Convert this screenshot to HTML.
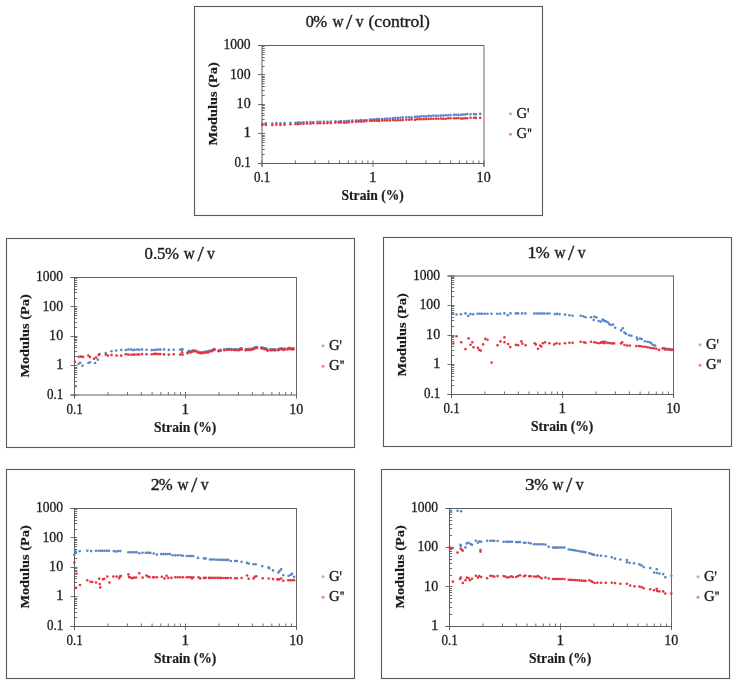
<!DOCTYPE html>
<html><head><meta charset="utf-8"><style>
html,body{margin:0;padding:0;background:#fff;}
svg{display:block;will-change:transform;}
.t{font-family:"Liberation Serif",serif;font-size:15px;fill:#1c1c1c;stroke:#1c1c1c;stroke-width:.35px;}
.n{font-family:"Liberation Serif",serif;font-size:14px;fill:#1c1c1c;stroke:#1c1c1c;stroke-width:.3px;}
.b{font-family:"Liberation Serif",serif;font-size:13px;font-weight:bold;fill:#1c1c1c;stroke:#1c1c1c;stroke-width:.2px;}
</style></head><body>
<svg width="739" height="684" viewBox="0 0 739 684">
<rect width="739" height="684" fill="#fff"/>
<g transform="translate(194,6)"><rect x="0.5" y="0.5" width="348" height="209" fill="#fff" stroke="#5a5a5a" stroke-width="1.1"/><text x="111.65" y="21.20" textLength="8.10" lengthAdjust="spacingAndGlyphs" class="t" style="font-size:16px">0</text><text x="119.31" y="21.20" textLength="13.94" lengthAdjust="spacingAndGlyphs" class="t" style="font-size:16px">%</text><text x="138.50" y="21.20" textLength="11.03" lengthAdjust="spacingAndGlyphs" class="t" style="font-size:16px">w</text><text x="152.10" y="23.20" textLength="6.26" lengthAdjust="spacingAndGlyphs" class="t" style="font-size:21.6px">/</text><text x="161.80" y="21.20" textLength="7.90" lengthAdjust="spacingAndGlyphs" class="t" style="font-size:16px">v</text><text x="174.51" y="21.20" textLength="61.46" lengthAdjust="spacingAndGlyphs" class="t" style="font-size:16px">(control)</text><path d="M64.0,39.5H290.0M64.0,157.5H290.0M68.0,39.5V160.8" fill="none" stroke="#5f5f5f" stroke-width="1"/><path d="M290.0,39.0V160.8" fill="none" stroke="#6a6a6a" stroke-width="1"/><path d="M64.0,157.50H71.0M68.0,148.50H70.7M68.0,143.50H70.7M68.0,139.50H70.7M68.0,136.50H70.7M68.0,134.50H70.7M68.0,132.50H70.7M68.0,130.50H70.7M68.0,129.50H70.7M64.0,127.50H71.0M68.0,118.50H70.7M68.0,113.50H70.7M68.0,109.50H70.7M68.0,107.50H70.7M68.0,104.50H70.7M68.0,102.50H70.7M68.0,101.50H70.7M68.0,99.50H70.7M64.0,98.50H71.0M68.0,89.50H70.7M68.0,84.50H70.7M68.0,80.50H70.7M68.0,77.50H70.7M68.0,75.50H70.7M68.0,73.50H70.7M68.0,71.50H70.7M68.0,70.50H70.7M64.0,68.50H71.0M68.0,60.50H70.7M68.0,54.50H70.7M68.0,51.50H70.7M68.0,48.50H70.7M68.0,46.50H70.7M68.0,44.50H70.7M68.0,42.50H70.7M68.0,40.50H70.7M64.0,39.50H71.0M68.00,154.5V160.8M101.41,154.5V157.5M120.96,154.5V157.5M134.83,154.5V157.5M145.59,154.5V157.5M154.37,154.5V157.5M161.81,154.5V157.5M168.24,154.5V157.5M173.92,154.5V157.5M179.00,154.5V160.8M212.41,154.5V157.5M231.96,154.5V157.5M245.83,154.5V157.5M256.59,154.5V157.5M265.37,154.5V157.5M272.81,154.5V157.5M279.24,154.5V157.5M284.92,154.5V157.5M290.00,154.5V160.8" fill="none" stroke="#5f5f5f" stroke-width="0.9"/><text x="40.58" y="160.70" textLength="16.30" lengthAdjust="spacingAndGlyphs" class="n" style="font-size:14px">0.1</text><text x="49.44" y="131.30" textLength="7.57" lengthAdjust="spacingAndGlyphs" class="n" style="font-size:14px">1</text><text x="42.64" y="101.90" textLength="14.02" lengthAdjust="spacingAndGlyphs" class="n" style="font-size:14px">10</text><text x="35.96" y="72.50" textLength="20.69" lengthAdjust="spacingAndGlyphs" class="n" style="font-size:14px">100</text><text x="29.48" y="43.10" textLength="27.17" lengthAdjust="spacingAndGlyphs" class="n" style="font-size:14px">1000</text><text x="59.98" y="175.80" textLength="16.30" lengthAdjust="spacingAndGlyphs" class="n" style="font-size:14px">0.1</text><text x="174.99" y="175.80" textLength="7.57" lengthAdjust="spacingAndGlyphs" class="n" style="font-size:14px">1</text><text x="282.64" y="175.80" textLength="14.02" lengthAdjust="spacingAndGlyphs" class="n" style="font-size:14px">10</text><text x="147.55" y="194.10" textLength="62.23" lengthAdjust="spacingAndGlyphs" class="b" style="font-size:14px">Strain (%)</text><g transform="translate(22.6,139.4) rotate(-90)"><text x="-0.22" y="0.00" textLength="83.31" lengthAdjust="spacingAndGlyphs" class="b" style="font-size:13.5px">Modulus (Pa)</text></g><g transform="translate(0.0,0)"><circle cx="316.5" cy="107.7" r="1.5" fill="#5a86c2" opacity=".6"/><circle cx="316.5" cy="128.3" r="1.5" fill="#e3343f" opacity=".6"/><text x="322.41" y="111.50" textLength="10.67" lengthAdjust="spacingAndGlyphs" class="n" style="font-size:13.9px">G</text><text x="322.41" y="131.70" textLength="10.67" lengthAdjust="spacingAndGlyphs" class="n" style="font-size:13.9px">G</text><path d="M333.35,102.3L335.05,102.3L334.60,106.4L333.80,106.4ZM333.65,122.6L335.35,122.6L334.90,126.3L334.10,126.3ZM335.75,122.6L337.45,122.6L337.00,126.3L336.20,126.3Z" fill="#1c1c1c"/></g><g fill="#5a86c2"><circle cx="68.3" cy="117.5" r="1.3"/><circle cx="71.8" cy="117.3" r="1.3"/><circle cx="78.3" cy="117.5" r="1.3"/><circle cx="82.4" cy="117.1" r="1.3"/><circle cx="86.4" cy="117.3" r="1.3"/><circle cx="90.5" cy="117.1" r="1.3"/><circle cx="96.4" cy="116.7" r="1.3"/><circle cx="101.5" cy="116.8" r="1.3"/><circle cx="104.0" cy="116.4" r="1.3"/><circle cx="106.5" cy="116.5" r="1.3"/><circle cx="109.5" cy="116.2" r="1.3"/><circle cx="113.0" cy="116.1" r="1.3"/><circle cx="116.5" cy="116.1" r="1.3"/><circle cx="119.3" cy="116.3" r="1.3"/><circle cx="123.5" cy="115.7" r="1.3"/><circle cx="126.2" cy="115.7" r="1.3"/><circle cx="129.9" cy="115.8" r="1.3"/><circle cx="133.5" cy="115.9" r="1.3"/><circle cx="136.8" cy="115.6" r="1.3"/><circle cx="141.4" cy="115.4" r="1.3"/><circle cx="144.8" cy="115.6" r="1.3"/><circle cx="147.0" cy="115.0" r="1.3"/><circle cx="150.2" cy="115.4" r="1.3"/><circle cx="152.6" cy="115.0" r="1.3"/><circle cx="155.0" cy="114.8" r="1.3"/><circle cx="158.3" cy="114.6" r="1.3"/><circle cx="162.0" cy="114.5" r="1.3"/><circle cx="164.6" cy="114.6" r="1.3"/><circle cx="167.2" cy="114.1" r="1.3"/><circle cx="169.8" cy="114.2" r="1.3"/><circle cx="172.4" cy="114.0" r="1.3"/><circle cx="176.0" cy="113.6" r="1.3"/><circle cx="178.2" cy="113.6" r="1.3"/><circle cx="180.5" cy="113.2" r="1.3"/><circle cx="182.8" cy="113.0" r="1.3"/><circle cx="185.0" cy="113.0" r="1.3"/><circle cx="188.0" cy="113.0" r="1.3"/><circle cx="190.7" cy="112.7" r="1.3"/><circle cx="193.3" cy="112.5" r="1.3"/><circle cx="196.0" cy="112.5" r="1.3"/><circle cx="199.0" cy="112.2" r="1.3"/><circle cx="201.4" cy="111.9" r="1.3"/><circle cx="203.9" cy="112.0" r="1.3"/><circle cx="206.4" cy="111.8" r="1.3"/><circle cx="208.8" cy="111.4" r="1.3"/><circle cx="212.3" cy="111.4" r="1.3"/><circle cx="215.0" cy="111.2" r="1.3"/><circle cx="217.6" cy="111.2" r="1.3"/><circle cx="221.0" cy="110.9" r="1.3"/><circle cx="223.1" cy="110.6" r="1.3"/><circle cx="225.3" cy="110.9" r="1.3"/><circle cx="227.4" cy="110.3" r="1.3"/><circle cx="229.8" cy="110.3" r="1.3"/><circle cx="232.2" cy="110.4" r="1.3"/><circle cx="234.6" cy="109.9" r="1.3"/><circle cx="236.9" cy="110.0" r="1.3"/><circle cx="239.3" cy="109.6" r="1.3"/><circle cx="242.0" cy="109.9" r="1.3"/><circle cx="244.4" cy="109.8" r="1.3"/><circle cx="246.9" cy="109.6" r="1.3"/><circle cx="249.3" cy="109.6" r="1.3"/><circle cx="251.7" cy="109.2" r="1.3"/><circle cx="254.2" cy="109.3" r="1.3"/><circle cx="256.6" cy="109.1" r="1.3"/><circle cx="260.0" cy="108.9" r="1.3"/><circle cx="262.2" cy="108.8" r="1.3"/><circle cx="264.5" cy="108.9" r="1.3"/><circle cx="267.0" cy="108.8" r="1.3"/><circle cx="269.0" cy="108.5" r="1.3"/><circle cx="271.1" cy="108.5" r="1.3"/><circle cx="273.1" cy="108.0" r="1.3"/><circle cx="276.5" cy="108.3" r="1.3"/><circle cx="280.0" cy="108.1" r="1.3"/><circle cx="281.9" cy="108.2" r="1.3"/><circle cx="286.2" cy="107.9" r="1.3"/></g><g fill="#e3343f"><circle cx="68.3" cy="118.9" r="1.3"/><circle cx="71.8" cy="118.9" r="1.3"/><circle cx="78.3" cy="119.1" r="1.3"/><circle cx="82.4" cy="118.7" r="1.3"/><circle cx="86.4" cy="118.9" r="1.3"/><circle cx="90.5" cy="118.7" r="1.3"/><circle cx="96.4" cy="118.3" r="1.3"/><circle cx="101.5" cy="118.0" r="1.3"/><circle cx="104.0" cy="118.3" r="1.3"/><circle cx="106.5" cy="117.8" r="1.3"/><circle cx="109.5" cy="117.7" r="1.3"/><circle cx="113.0" cy="117.6" r="1.3"/><circle cx="116.5" cy="117.7" r="1.3"/><circle cx="119.3" cy="117.1" r="1.3"/><circle cx="123.5" cy="117.2" r="1.3"/><circle cx="126.2" cy="117.2" r="1.3"/><circle cx="129.9" cy="117.3" r="1.3"/><circle cx="133.5" cy="117.1" r="1.3"/><circle cx="136.8" cy="117.1" r="1.3"/><circle cx="141.4" cy="116.6" r="1.3"/><circle cx="144.8" cy="116.6" r="1.3"/><circle cx="147.0" cy="116.5" r="1.3"/><circle cx="150.2" cy="116.7" r="1.3"/><circle cx="152.6" cy="116.7" r="1.3"/><circle cx="155.0" cy="116.1" r="1.3"/><circle cx="158.3" cy="116.0" r="1.3"/><circle cx="162.0" cy="115.8" r="1.3"/><circle cx="164.6" cy="115.6" r="1.3"/><circle cx="167.2" cy="115.6" r="1.3"/><circle cx="169.8" cy="115.5" r="1.3"/><circle cx="172.4" cy="115.1" r="1.3"/><circle cx="176.0" cy="114.7" r="1.3"/><circle cx="178.2" cy="114.8" r="1.3"/><circle cx="180.5" cy="114.7" r="1.3"/><circle cx="182.8" cy="114.7" r="1.3"/><circle cx="185.0" cy="114.9" r="1.3"/><circle cx="188.0" cy="114.6" r="1.3"/><circle cx="190.7" cy="114.4" r="1.3"/><circle cx="193.3" cy="114.4" r="1.3"/><circle cx="196.0" cy="114.4" r="1.3"/><circle cx="199.0" cy="113.9" r="1.3"/><circle cx="201.4" cy="114.4" r="1.3"/><circle cx="203.9" cy="114.2" r="1.3"/><circle cx="206.4" cy="114.2" r="1.3"/><circle cx="208.8" cy="114.1" r="1.3"/><circle cx="212.3" cy="113.8" r="1.3"/><circle cx="215.0" cy="113.7" r="1.3"/><circle cx="217.6" cy="113.4" r="1.3"/><circle cx="221.0" cy="113.7" r="1.3"/><circle cx="223.1" cy="113.2" r="1.3"/><circle cx="225.3" cy="113.2" r="1.3"/><circle cx="227.4" cy="113.2" r="1.3"/><circle cx="229.8" cy="113.1" r="1.3"/><circle cx="232.2" cy="113.1" r="1.3"/><circle cx="234.6" cy="112.9" r="1.3"/><circle cx="236.9" cy="112.8" r="1.3"/><circle cx="239.3" cy="112.8" r="1.3"/><circle cx="242.0" cy="112.7" r="1.3"/><circle cx="244.4" cy="112.8" r="1.3"/><circle cx="246.9" cy="112.5" r="1.3"/><circle cx="249.3" cy="112.9" r="1.3"/><circle cx="251.7" cy="112.7" r="1.3"/><circle cx="254.2" cy="112.3" r="1.3"/><circle cx="256.6" cy="112.3" r="1.3"/><circle cx="260.0" cy="112.3" r="1.3"/><circle cx="262.2" cy="112.3" r="1.3"/><circle cx="264.5" cy="112.1" r="1.3"/><circle cx="267.0" cy="112.5" r="1.3"/><circle cx="269.0" cy="112.5" r="1.3"/><circle cx="271.1" cy="112.2" r="1.3"/><circle cx="273.1" cy="112.2" r="1.3"/><circle cx="276.5" cy="111.8" r="1.3"/><circle cx="280.0" cy="111.8" r="1.3"/><circle cx="281.9" cy="111.9" r="1.3"/><circle cx="286.2" cy="111.8" r="1.3"/></g></g><g transform="translate(6,238)"><rect x="0.5" y="0.5" width="348" height="209" fill="#fff" stroke="#5a5a5a" stroke-width="1.1"/><text x="138.53" y="20.50" textLength="20.94" lengthAdjust="spacingAndGlyphs" class="t" style="font-size:16px">0.5</text><text x="159.01" y="20.50" textLength="13.94" lengthAdjust="spacingAndGlyphs" class="t" style="font-size:16px">%</text><text x="177.80" y="20.50" textLength="11.03" lengthAdjust="spacingAndGlyphs" class="t" style="font-size:16px">w</text><text x="191.40" y="22.50" textLength="6.26" lengthAdjust="spacingAndGlyphs" class="t" style="font-size:21.6px">/</text><text x="201.10" y="20.50" textLength="7.90" lengthAdjust="spacingAndGlyphs" class="t" style="font-size:16px">v</text><path d="M64.5,39.5H290.5M64.5,157.0H290.5M68.5,39.5V160.3" fill="none" stroke="#5f5f5f" stroke-width="1"/><path d="M290.5,39.0V160.3" fill="none" stroke="#6a6a6a" stroke-width="1"/><path d="M64.5,157.00H71.5M68.5,148.50H71.2M68.5,143.50H71.2M68.5,139.50H71.2M68.5,136.50H71.2M68.5,134.50H71.2M68.5,132.50H71.2M68.5,130.50H71.2M68.5,129.50H71.2M64.5,127.50H71.5M68.5,118.50H71.2M68.5,113.50H71.2M68.5,109.50H71.2M68.5,107.50H71.2M68.5,104.50H71.2M68.5,102.50H71.2M68.5,101.50H71.2M68.5,99.50H71.2M64.5,98.50H71.5M68.5,89.50H71.2M68.5,84.50H71.2M68.5,80.50H71.2M68.5,77.50H71.2M68.5,75.50H71.2M68.5,73.50H71.2M68.5,71.50H71.2M68.5,70.50H71.2M64.5,68.50H71.5M68.5,60.50H71.2M68.5,54.50H71.2M68.5,51.50H71.2M68.5,48.50H71.2M68.5,46.50H71.2M68.5,44.50H71.2M68.5,42.50H71.2M68.5,40.50H71.2M64.5,39.50H71.5M68.50,154.0V160.3M101.91,154.0V157.0M121.46,154.0V157.0M135.33,154.0V157.0M146.09,154.0V157.0M154.87,154.0V157.0M162.31,154.0V157.0M168.74,154.0V157.0M174.42,154.0V157.0M179.50,154.0V160.3M212.91,154.0V157.0M232.46,154.0V157.0M246.33,154.0V157.0M257.09,154.0V157.0M265.87,154.0V157.0M273.31,154.0V157.0M279.74,154.0V157.0M285.42,154.0V157.0M290.50,154.0V160.3" fill="none" stroke="#5f5f5f" stroke-width="0.9"/><text x="41.08" y="160.70" textLength="16.30" lengthAdjust="spacingAndGlyphs" class="n" style="font-size:14px">0.1</text><text x="49.94" y="131.30" textLength="7.57" lengthAdjust="spacingAndGlyphs" class="n" style="font-size:14px">1</text><text x="43.14" y="101.90" textLength="14.02" lengthAdjust="spacingAndGlyphs" class="n" style="font-size:14px">10</text><text x="36.46" y="72.50" textLength="20.69" lengthAdjust="spacingAndGlyphs" class="n" style="font-size:14px">100</text><text x="29.98" y="43.10" textLength="27.17" lengthAdjust="spacingAndGlyphs" class="n" style="font-size:14px">1000</text><text x="60.48" y="175.80" textLength="16.30" lengthAdjust="spacingAndGlyphs" class="n" style="font-size:14px">0.1</text><text x="175.49" y="175.80" textLength="7.57" lengthAdjust="spacingAndGlyphs" class="n" style="font-size:14px">1</text><text x="283.14" y="175.80" textLength="14.02" lengthAdjust="spacingAndGlyphs" class="n" style="font-size:14px">10</text><text x="148.05" y="194.10" textLength="62.23" lengthAdjust="spacingAndGlyphs" class="b" style="font-size:14px">Strain (%)</text><g transform="translate(23.1,139.4) rotate(-90)"><text x="-0.22" y="0.00" textLength="83.31" lengthAdjust="spacingAndGlyphs" class="b" style="font-size:13.5px">Modulus (Pa)</text></g><g transform="translate(0.5,0)"><circle cx="316.5" cy="107.7" r="1.5" fill="#5a86c2" opacity=".6"/><circle cx="316.5" cy="128.3" r="1.5" fill="#e3343f" opacity=".6"/><text x="322.41" y="111.50" textLength="10.67" lengthAdjust="spacingAndGlyphs" class="n" style="font-size:13.9px">G</text><text x="322.41" y="131.70" textLength="10.67" lengthAdjust="spacingAndGlyphs" class="n" style="font-size:13.9px">G</text><path d="M333.35,102.3L335.05,102.3L334.60,106.4L333.80,106.4ZM333.65,122.6L335.35,122.6L334.90,126.3L334.10,126.3ZM335.75,122.6L337.45,122.6L337.00,126.3L336.20,126.3Z" fill="#1c1c1c"/></g><g fill="#5a86c2"><circle cx="69.6" cy="148.1" r="1.3"/><circle cx="72.7" cy="125.8" r="1.3"/><circle cx="74.2" cy="124.8" r="1.3"/><circle cx="76.5" cy="127.8" r="1.3"/><circle cx="82.4" cy="125.0" r="1.3"/><circle cx="84.0" cy="124.2" r="1.3"/><circle cx="89.1" cy="125.0" r="1.3"/><circle cx="91.8" cy="121.7" r="1.3"/><circle cx="99.8" cy="115.0" r="1.3"/><circle cx="105.5" cy="113.3" r="1.3"/><circle cx="110.1" cy="112.5" r="1.3"/><circle cx="115.2" cy="112.0" r="1.3"/><circle cx="119.8" cy="112.0" r="1.3"/><circle cx="122.2" cy="111.5" r="1.3"/><circle cx="124.7" cy="111.4" r="1.3"/><circle cx="127.1" cy="112.1" r="1.3"/><circle cx="128.7" cy="111.8" r="1.3"/><circle cx="131.2" cy="111.5" r="1.3"/><circle cx="133.2" cy="111.8" r="1.3"/><circle cx="136.0" cy="111.4" r="1.3"/><circle cx="140.5" cy="111.7" r="1.3"/><circle cx="145.8" cy="112.1" r="1.3"/><circle cx="148.2" cy="112.0" r="1.3"/><circle cx="150.2" cy="111.8" r="1.3"/><circle cx="152.3" cy="111.5" r="1.3"/><circle cx="154.3" cy="111.6" r="1.3"/><circle cx="158.0" cy="111.4" r="1.3"/><circle cx="162.8" cy="111.9" r="1.3"/><circle cx="167.7" cy="111.7" r="1.3"/><circle cx="174.2" cy="111.8" r="1.3"/><circle cx="176.6" cy="111.5" r="1.3"/><circle cx="175.6" cy="111.3" r="1.3"/><circle cx="181.7" cy="114.3" r="1.3"/><circle cx="182.9" cy="112.9" r="1.3"/><circle cx="184.6" cy="113.5" r="1.3"/><circle cx="186.2" cy="112.7" r="1.3"/><circle cx="187.8" cy="112.3" r="1.3"/><circle cx="190.2" cy="112.7" r="1.3"/><circle cx="192.3" cy="113.9" r="1.3"/><circle cx="194.3" cy="114.3" r="1.3"/><circle cx="196.3" cy="114.3" r="1.3"/><circle cx="198.4" cy="113.9" r="1.3"/><circle cx="200.4" cy="113.5" r="1.3"/><circle cx="202.0" cy="113.5" r="1.3"/><circle cx="203.6" cy="112.7" r="1.3"/><circle cx="205.7" cy="112.3" r="1.3"/><circle cx="207.3" cy="111.4" r="1.3"/><circle cx="208.5" cy="111.0" r="1.3"/><circle cx="212.6" cy="112.3" r="1.3"/><circle cx="214.6" cy="111.9" r="1.3"/><circle cx="218.2" cy="111.4" r="1.3"/><circle cx="220.7" cy="111.0" r="1.3"/><circle cx="223.1" cy="110.9" r="1.3"/><circle cx="225.5" cy="111.0" r="1.3"/><circle cx="228.0" cy="111.2" r="1.3"/><circle cx="230.0" cy="111.2" r="1.3"/><circle cx="232.4" cy="111.4" r="1.3"/><circle cx="233.6" cy="111.0" r="1.3"/><circle cx="234.8" cy="110.2" r="1.3"/><circle cx="235.7" cy="110.6" r="1.3"/><circle cx="239.7" cy="111.4" r="1.3"/><circle cx="241.3" cy="111.0" r="1.3"/><circle cx="243.0" cy="111.0" r="1.3"/><circle cx="244.6" cy="111.0" r="1.3"/><circle cx="246.2" cy="110.6" r="1.3"/><circle cx="247.8" cy="110.2" r="1.3"/><circle cx="249.0" cy="109.4" r="1.3"/><circle cx="251.0" cy="109.0" r="1.3"/><circle cx="255.5" cy="109.4" r="1.3"/><circle cx="257.2" cy="109.8" r="1.3"/><circle cx="258.8" cy="110.2" r="1.3"/><circle cx="260.4" cy="110.6" r="1.3"/><circle cx="261.6" cy="111.9" r="1.3"/><circle cx="264.5" cy="111.4" r="1.3"/><circle cx="266.1" cy="111.4" r="1.3"/><circle cx="268.1" cy="111.4" r="1.3"/><circle cx="269.3" cy="111.4" r="1.3"/><circle cx="272.2" cy="111.4" r="1.3"/><circle cx="273.8" cy="110.6" r="1.3"/><circle cx="275.8" cy="110.2" r="1.3"/><circle cx="277.5" cy="111.0" r="1.3"/><circle cx="278.7" cy="110.6" r="1.3"/><circle cx="281.5" cy="110.6" r="1.3"/><circle cx="283.1" cy="109.8" r="1.3"/><circle cx="284.8" cy="110.2" r="1.3"/><circle cx="286.4" cy="110.6" r="1.3"/><circle cx="287.6" cy="110.2" r="1.3"/></g><g fill="#e3343f"><circle cx="68.9" cy="123.7" r="1.3"/><circle cx="72.7" cy="118.8" r="1.3"/><circle cx="74.8" cy="118.6" r="1.3"/><circle cx="77.0" cy="118.9" r="1.3"/><circle cx="82.4" cy="117.6" r="1.3"/><circle cx="84.0" cy="119.1" r="1.3"/><circle cx="88.0" cy="120.7" r="1.3"/><circle cx="90.1" cy="119.6" r="1.3"/><circle cx="92.7" cy="117.0" r="1.3"/><circle cx="93.5" cy="116.0" r="1.3"/><circle cx="99.8" cy="116.6" r="1.3"/><circle cx="101.9" cy="117.6" r="1.3"/><circle cx="105.5" cy="117.0" r="1.3"/><circle cx="110.6" cy="117.6" r="1.3"/><circle cx="115.2" cy="117.6" r="1.3"/><circle cx="119.8" cy="116.2" r="1.3"/><circle cx="122.2" cy="116.6" r="1.3"/><circle cx="124.7" cy="116.8" r="1.3"/><circle cx="127.1" cy="116.6" r="1.3"/><circle cx="128.7" cy="116.6" r="1.3"/><circle cx="131.2" cy="116.6" r="1.3"/><circle cx="133.2" cy="116.5" r="1.3"/><circle cx="136.0" cy="116.1" r="1.3"/><circle cx="140.5" cy="116.3" r="1.3"/><circle cx="145.8" cy="116.2" r="1.3"/><circle cx="148.2" cy="115.9" r="1.3"/><circle cx="150.2" cy="115.9" r="1.3"/><circle cx="152.3" cy="116.1" r="1.3"/><circle cx="154.3" cy="116.1" r="1.3"/><circle cx="158.0" cy="116.4" r="1.3"/><circle cx="162.8" cy="116.6" r="1.3"/><circle cx="167.7" cy="116.2" r="1.3"/><circle cx="174.2" cy="116.6" r="1.3"/><circle cx="176.6" cy="116.6" r="1.3"/><circle cx="176.0" cy="114.2" r="1.3"/><circle cx="181.7" cy="115.2" r="1.3"/><circle cx="182.9" cy="113.8" r="1.3"/><circle cx="184.6" cy="114.4" r="1.3"/><circle cx="186.2" cy="113.6" r="1.3"/><circle cx="187.8" cy="113.2" r="1.3"/><circle cx="190.2" cy="113.6" r="1.3"/><circle cx="192.3" cy="114.8" r="1.3"/><circle cx="194.3" cy="115.2" r="1.3"/><circle cx="196.3" cy="115.2" r="1.3"/><circle cx="198.4" cy="114.8" r="1.3"/><circle cx="200.4" cy="114.4" r="1.3"/><circle cx="202.0" cy="114.4" r="1.3"/><circle cx="203.6" cy="113.6" r="1.3"/><circle cx="205.7" cy="113.2" r="1.3"/><circle cx="207.3" cy="112.3" r="1.3"/><circle cx="208.5" cy="111.9" r="1.3"/><circle cx="212.6" cy="113.2" r="1.3"/><circle cx="214.6" cy="112.8" r="1.3"/><circle cx="218.2" cy="112.3" r="1.3"/><circle cx="220.7" cy="111.9" r="1.3"/><circle cx="223.1" cy="111.8" r="1.3"/><circle cx="225.5" cy="111.9" r="1.3"/><circle cx="228.0" cy="112.1" r="1.3"/><circle cx="230.0" cy="112.1" r="1.3"/><circle cx="232.4" cy="112.3" r="1.3"/><circle cx="233.6" cy="111.9" r="1.3"/><circle cx="234.8" cy="111.1" r="1.3"/><circle cx="235.7" cy="111.5" r="1.3"/><circle cx="239.7" cy="112.3" r="1.3"/><circle cx="241.3" cy="111.9" r="1.3"/><circle cx="243.0" cy="111.9" r="1.3"/><circle cx="244.6" cy="111.9" r="1.3"/><circle cx="246.2" cy="111.5" r="1.3"/><circle cx="247.8" cy="111.1" r="1.3"/><circle cx="249.0" cy="110.3" r="1.3"/><circle cx="251.0" cy="109.9" r="1.3"/><circle cx="255.5" cy="110.3" r="1.3"/><circle cx="257.2" cy="110.7" r="1.3"/><circle cx="258.8" cy="111.1" r="1.3"/><circle cx="260.4" cy="111.5" r="1.3"/><circle cx="261.6" cy="112.8" r="1.3"/><circle cx="264.5" cy="112.3" r="1.3"/><circle cx="266.1" cy="112.3" r="1.3"/><circle cx="268.1" cy="112.3" r="1.3"/><circle cx="269.3" cy="112.3" r="1.3"/><circle cx="272.2" cy="112.3" r="1.3"/><circle cx="273.8" cy="111.5" r="1.3"/><circle cx="275.8" cy="111.1" r="1.3"/><circle cx="277.5" cy="111.9" r="1.3"/><circle cx="278.7" cy="111.5" r="1.3"/><circle cx="281.5" cy="111.5" r="1.3"/><circle cx="283.1" cy="110.7" r="1.3"/><circle cx="284.8" cy="111.1" r="1.3"/><circle cx="286.4" cy="111.5" r="1.3"/><circle cx="287.6" cy="111.1" r="1.3"/></g></g><g transform="translate(383,237)"><rect x="0.5" y="0.5" width="348" height="209" fill="#fff" stroke="#5a5a5a" stroke-width="1.1"/><text x="144.30" y="20.80" textLength="9.43" lengthAdjust="spacingAndGlyphs" class="t" style="font-size:16px">1</text><text x="152.81" y="20.80" textLength="13.94" lengthAdjust="spacingAndGlyphs" class="t" style="font-size:16px">%</text><text x="171.50" y="20.80" textLength="11.03" lengthAdjust="spacingAndGlyphs" class="t" style="font-size:16px">w</text><text x="185.10" y="22.80" textLength="6.26" lengthAdjust="spacingAndGlyphs" class="t" style="font-size:21.6px">/</text><text x="194.80" y="20.80" textLength="7.90" lengthAdjust="spacingAndGlyphs" class="t" style="font-size:16px">v</text><path d="M64.5,39.0H290.5M64.5,157.5H290.5M68.5,39.0V160.8" fill="none" stroke="#5f5f5f" stroke-width="1"/><path d="M290.5,38.5V160.8" fill="none" stroke="#6a6a6a" stroke-width="1"/><path d="M64.5,157.50H71.5M68.5,148.50H71.2M68.5,143.50H71.2M68.5,139.50H71.2M68.5,136.50H71.2M68.5,134.50H71.2M68.5,132.50H71.2M68.5,130.50H71.2M68.5,128.50H71.2M64.5,127.50H71.5M68.5,118.50H71.2M68.5,113.50H71.2M68.5,109.50H71.2M68.5,106.50H71.2M68.5,104.50H71.2M68.5,102.50H71.2M68.5,100.50H71.2M68.5,99.50H71.2M64.5,98.50H71.5M68.5,89.50H71.2M68.5,83.50H71.2M68.5,80.50H71.2M68.5,77.50H71.2M68.5,75.50H71.2M68.5,73.50H71.2M68.5,71.50H71.2M68.5,69.50H71.2M64.5,68.50H71.5M68.5,59.50H71.2M68.5,54.50H71.2M68.5,50.50H71.2M68.5,47.50H71.2M68.5,45.50H71.2M68.5,43.50H71.2M68.5,41.50H71.2M68.5,40.50H71.2M64.5,39.00H71.5M68.50,154.5V160.8M101.91,154.5V157.5M121.46,154.5V157.5M135.33,154.5V157.5M146.09,154.5V157.5M154.87,154.5V157.5M162.31,154.5V157.5M168.74,154.5V157.5M174.42,154.5V157.5M179.50,154.5V160.8M212.91,154.5V157.5M232.46,154.5V157.5M246.33,154.5V157.5M257.09,154.5V157.5M265.87,154.5V157.5M273.31,154.5V157.5M279.74,154.5V157.5M285.42,154.5V157.5M290.50,154.5V160.8" fill="none" stroke="#5f5f5f" stroke-width="0.9"/><text x="41.08" y="160.70" textLength="16.30" lengthAdjust="spacingAndGlyphs" class="n" style="font-size:14px">0.1</text><text x="49.94" y="131.17" textLength="7.57" lengthAdjust="spacingAndGlyphs" class="n" style="font-size:14px">1</text><text x="43.14" y="101.65" textLength="14.02" lengthAdjust="spacingAndGlyphs" class="n" style="font-size:14px">10</text><text x="36.46" y="72.12" textLength="20.69" lengthAdjust="spacingAndGlyphs" class="n" style="font-size:14px">100</text><text x="29.98" y="42.60" textLength="27.17" lengthAdjust="spacingAndGlyphs" class="n" style="font-size:14px">1000</text><text x="60.48" y="175.80" textLength="16.30" lengthAdjust="spacingAndGlyphs" class="n" style="font-size:14px">0.1</text><text x="175.49" y="175.80" textLength="7.57" lengthAdjust="spacingAndGlyphs" class="n" style="font-size:14px">1</text><text x="283.14" y="175.80" textLength="14.02" lengthAdjust="spacingAndGlyphs" class="n" style="font-size:14px">10</text><text x="148.05" y="194.10" textLength="62.23" lengthAdjust="spacingAndGlyphs" class="b" style="font-size:14px">Strain (%)</text><g transform="translate(23.1,139.4) rotate(-90)"><text x="-0.22" y="0.00" textLength="83.31" lengthAdjust="spacingAndGlyphs" class="b" style="font-size:13.5px">Modulus (Pa)</text></g><g transform="translate(0.5,0)"><circle cx="316.5" cy="107.7" r="1.5" fill="#5a86c2" opacity=".6"/><circle cx="316.5" cy="128.3" r="1.5" fill="#e3343f" opacity=".6"/><text x="322.41" y="111.50" textLength="10.67" lengthAdjust="spacingAndGlyphs" class="n" style="font-size:13.9px">G</text><text x="322.41" y="131.70" textLength="10.67" lengthAdjust="spacingAndGlyphs" class="n" style="font-size:13.9px">G</text><path d="M333.35,102.3L335.05,102.3L334.60,106.4L333.80,106.4ZM333.65,122.6L335.35,122.6L334.90,126.3L334.10,126.3ZM335.75,122.6L337.45,122.6L337.00,126.3L336.20,126.3Z" fill="#1c1c1c"/></g><g fill="#5a86c2"><circle cx="69.9" cy="76.4" r="1.3"/><circle cx="73.5" cy="77.5" r="1.3"/><circle cx="77.9" cy="77.2" r="1.3"/><circle cx="82.5" cy="76.4" r="1.3"/><circle cx="85.3" cy="78.9" r="1.3"/><circle cx="87.5" cy="77.0" r="1.3"/><circle cx="90.2" cy="77.2" r="1.3"/><circle cx="94.6" cy="76.7" r="1.3"/><circle cx="96.8" cy="76.7" r="1.3"/><circle cx="99.0" cy="76.7" r="1.3"/><circle cx="101.7" cy="76.7" r="1.3"/><circle cx="104.5" cy="76.7" r="1.3"/><circle cx="108.6" cy="76.7" r="1.3"/><circle cx="114.3" cy="76.7" r="1.3"/><circle cx="117.1" cy="76.7" r="1.3"/><circle cx="121.4" cy="76.4" r="1.3"/><circle cx="124.7" cy="78.3" r="1.3"/><circle cx="127.5" cy="76.4" r="1.3"/><circle cx="132.9" cy="76.4" r="1.3"/><circle cx="135.1" cy="76.4" r="1.3"/><circle cx="139.0" cy="76.4" r="1.3"/><circle cx="142.3" cy="76.4" r="1.3"/><circle cx="151.2" cy="76.5" r="1.3"/><circle cx="153.5" cy="76.5" r="1.3"/><circle cx="155.5" cy="76.5" r="1.3"/><circle cx="157.5" cy="76.5" r="1.3"/><circle cx="159.5" cy="76.5" r="1.3"/><circle cx="161.5" cy="76.5" r="1.3"/><circle cx="164.2" cy="76.5" r="1.3"/><circle cx="166.4" cy="76.5" r="1.3"/><circle cx="171.8" cy="77.1" r="1.3"/><circle cx="173.9" cy="76.9" r="1.3"/><circle cx="176.6" cy="77.1" r="1.3"/><circle cx="182.0" cy="77.6" r="1.3"/><circle cx="186.4" cy="78.2" r="1.3"/><circle cx="189.6" cy="78.7" r="1.3"/><circle cx="197.7" cy="78.7" r="1.3"/><circle cx="200.4" cy="79.2" r="1.3"/><circle cx="202.6" cy="80.3" r="1.3"/><circle cx="208.0" cy="80.3" r="1.3"/><circle cx="211.3" cy="79.8" r="1.3"/><circle cx="213.4" cy="80.3" r="1.3"/><circle cx="210.7" cy="83.0" r="1.3"/><circle cx="215.6" cy="84.1" r="1.3"/><circle cx="217.8" cy="84.6" r="1.3"/><circle cx="220.0" cy="83.0" r="1.3"/><circle cx="221.5" cy="84.1" r="1.3"/><circle cx="219.7" cy="82.6" r="1.3"/><circle cx="221.3" cy="83.7" r="1.3"/><circle cx="223.0" cy="84.2" r="1.3"/><circle cx="224.6" cy="85.3" r="1.3"/><circle cx="226.2" cy="86.9" r="1.3"/><circle cx="227.8" cy="88.0" r="1.3"/><circle cx="230.0" cy="87.5" r="1.3"/><circle cx="232.2" cy="90.7" r="1.3"/><circle cx="238.1" cy="93.4" r="1.3"/><circle cx="239.7" cy="91.3" r="1.3"/><circle cx="241.4" cy="95.6" r="1.3"/><circle cx="243.0" cy="96.7" r="1.3"/><circle cx="246.2" cy="98.3" r="1.3"/><circle cx="248.4" cy="98.8" r="1.3"/><circle cx="253.8" cy="100.5" r="1.3"/><circle cx="254.3" cy="102.6" r="1.3"/><circle cx="257.0" cy="101.5" r="1.3"/><circle cx="258.7" cy="102.1" r="1.3"/><circle cx="261.9" cy="104.3" r="1.3"/><circle cx="264.6" cy="104.8" r="1.3"/><circle cx="266.8" cy="105.3" r="1.3"/><circle cx="268.4" cy="106.4" r="1.3"/><circle cx="270.0" cy="108.0" r="1.3"/><circle cx="272.2" cy="108.6" r="1.3"/><circle cx="279.8" cy="111.3" r="1.3"/><circle cx="281.9" cy="111.3" r="1.3"/><circle cx="285.2" cy="111.8" r="1.3"/><circle cx="287.3" cy="112.4" r="1.3"/><circle cx="289.5" cy="112.6" r="1.3"/></g><g fill="#e3343f"><circle cx="70.3" cy="106.6" r="1.3"/><circle cx="73.5" cy="99.2" r="1.3"/><circle cx="78.2" cy="105.2" r="1.3"/><circle cx="82.5" cy="112.1" r="1.3"/><circle cx="85.6" cy="101.4" r="1.3"/><circle cx="87.5" cy="107.7" r="1.3"/><circle cx="89.3" cy="105.2" r="1.3"/><circle cx="90.5" cy="110.3" r="1.3"/><circle cx="94.8" cy="110.7" r="1.3"/><circle cx="96.2" cy="112.9" r="1.3"/><circle cx="97.7" cy="113.6" r="1.3"/><circle cx="100.1" cy="107.4" r="1.3"/><circle cx="102.3" cy="101.9" r="1.3"/><circle cx="104.5" cy="102.7" r="1.3"/><circle cx="108.6" cy="125.5" r="1.3"/><circle cx="114.5" cy="108.2" r="1.3"/><circle cx="117.4" cy="104.4" r="1.3"/><circle cx="121.4" cy="100.3" r="1.3"/><circle cx="121.4" cy="105.2" r="1.3"/><circle cx="125.1" cy="107.1" r="1.3"/><circle cx="127.2" cy="110.1" r="1.3"/><circle cx="132.9" cy="107.9" r="1.3"/><circle cx="135.1" cy="108.2" r="1.3"/><circle cx="138.4" cy="104.4" r="1.3"/><circle cx="139.3" cy="106.8" r="1.3"/><circle cx="142.6" cy="108.2" r="1.3"/><circle cx="151.7" cy="106.3" r="1.3"/><circle cx="152.8" cy="107.4" r="1.3"/><circle cx="155.0" cy="111.7" r="1.3"/><circle cx="157.2" cy="108.5" r="1.3"/><circle cx="158.2" cy="109.5" r="1.3"/><circle cx="159.9" cy="106.3" r="1.3"/><circle cx="162.0" cy="105.2" r="1.3"/><circle cx="166.4" cy="106.3" r="1.3"/><circle cx="171.2" cy="107.4" r="1.3"/><circle cx="173.4" cy="106.3" r="1.3"/><circle cx="176.6" cy="106.8" r="1.3"/><circle cx="182.0" cy="106.3" r="1.3"/><circle cx="186.4" cy="105.7" r="1.3"/><circle cx="189.6" cy="105.7" r="1.3"/><circle cx="197.7" cy="104.7" r="1.3"/><circle cx="201.0" cy="105.2" r="1.3"/><circle cx="202.6" cy="105.7" r="1.3"/><circle cx="208.0" cy="104.7" r="1.3"/><circle cx="211.3" cy="105.2" r="1.3"/><circle cx="213.4" cy="105.7" r="1.3"/><circle cx="215.6" cy="106.3" r="1.3"/><circle cx="217.8" cy="105.7" r="1.3"/><circle cx="220.0" cy="105.7" r="1.3"/><circle cx="221.5" cy="106.3" r="1.3"/><circle cx="218.1" cy="105.3" r="1.3"/><circle cx="220.2" cy="104.8" r="1.3"/><circle cx="222.4" cy="104.8" r="1.3"/><circle cx="224.6" cy="105.9" r="1.3"/><circle cx="226.7" cy="106.1" r="1.3"/><circle cx="228.9" cy="106.4" r="1.3"/><circle cx="231.1" cy="106.4" r="1.3"/><circle cx="238.1" cy="106.4" r="1.3"/><circle cx="239.2" cy="105.3" r="1.3"/><circle cx="241.4" cy="108.0" r="1.3"/><circle cx="244.1" cy="108.6" r="1.3"/><circle cx="246.8" cy="108.6" r="1.3"/><circle cx="253.3" cy="109.1" r="1.3"/><circle cx="256.0" cy="109.1" r="1.3"/><circle cx="258.1" cy="109.3" r="1.3"/><circle cx="260.3" cy="109.7" r="1.3"/><circle cx="262.5" cy="109.7" r="1.3"/><circle cx="264.6" cy="110.2" r="1.3"/><circle cx="266.8" cy="110.7" r="1.3"/><circle cx="268.9" cy="111.3" r="1.3"/><circle cx="271.1" cy="111.3" r="1.3"/><circle cx="273.3" cy="111.8" r="1.3"/><circle cx="276.0" cy="112.9" r="1.3"/><circle cx="279.8" cy="111.3" r="1.3"/><circle cx="281.9" cy="112.4" r="1.3"/><circle cx="284.1" cy="112.4" r="1.3"/><circle cx="286.3" cy="112.6" r="1.3"/><circle cx="288.4" cy="112.9" r="1.3"/><circle cx="290.0" cy="112.9" r="1.3"/></g></g><g transform="translate(6,469)"><rect x="0.5" y="0.5" width="348" height="209" fill="#fff" stroke="#5a5a5a" stroke-width="1.1"/><text x="144.70" y="20.80" textLength="8.87" lengthAdjust="spacingAndGlyphs" class="t" style="font-size:16px">2</text><text x="152.81" y="20.80" textLength="13.94" lengthAdjust="spacingAndGlyphs" class="t" style="font-size:16px">%</text><text x="171.50" y="20.80" textLength="11.03" lengthAdjust="spacingAndGlyphs" class="t" style="font-size:16px">w</text><text x="185.10" y="22.80" textLength="6.26" lengthAdjust="spacingAndGlyphs" class="t" style="font-size:21.6px">/</text><text x="194.80" y="20.80" textLength="7.90" lengthAdjust="spacingAndGlyphs" class="t" style="font-size:16px">v</text><path d="M64.5,39.5H290.5M64.5,157.5H290.5M68.5,39.5V160.8" fill="none" stroke="#5f5f5f" stroke-width="1"/><path d="M290.5,39.0V160.8" fill="none" stroke="#6a6a6a" stroke-width="1"/><path d="M64.5,157.50H71.5M68.5,148.50H71.2M68.5,143.50H71.2M68.5,139.50H71.2M68.5,136.50H71.2M68.5,134.50H71.2M68.5,132.50H71.2M68.5,130.50H71.2M68.5,129.50H71.2M64.5,127.50H71.5M68.5,118.50H71.2M68.5,113.50H71.2M68.5,109.50H71.2M68.5,107.50H71.2M68.5,104.50H71.2M68.5,102.50H71.2M68.5,101.50H71.2M68.5,99.50H71.2M64.5,98.50H71.5M68.5,89.50H71.2M68.5,84.50H71.2M68.5,80.50H71.2M68.5,77.50H71.2M68.5,75.50H71.2M68.5,73.50H71.2M68.5,71.50H71.2M68.5,70.50H71.2M64.5,68.50H71.5M68.5,60.50H71.2M68.5,54.50H71.2M68.5,51.50H71.2M68.5,48.50H71.2M68.5,46.50H71.2M68.5,44.50H71.2M68.5,42.50H71.2M68.5,40.50H71.2M64.5,39.50H71.5M68.50,154.5V160.8M101.91,154.5V157.5M121.46,154.5V157.5M135.33,154.5V157.5M146.09,154.5V157.5M154.87,154.5V157.5M162.31,154.5V157.5M168.74,154.5V157.5M174.42,154.5V157.5M179.50,154.5V160.8M212.91,154.5V157.5M232.46,154.5V157.5M246.33,154.5V157.5M257.09,154.5V157.5M265.87,154.5V157.5M273.31,154.5V157.5M279.74,154.5V157.5M285.42,154.5V157.5M290.50,154.5V160.8" fill="none" stroke="#5f5f5f" stroke-width="0.9"/><text x="41.08" y="160.70" textLength="16.30" lengthAdjust="spacingAndGlyphs" class="n" style="font-size:14px">0.1</text><text x="49.94" y="131.30" textLength="7.57" lengthAdjust="spacingAndGlyphs" class="n" style="font-size:14px">1</text><text x="43.14" y="101.90" textLength="14.02" lengthAdjust="spacingAndGlyphs" class="n" style="font-size:14px">10</text><text x="36.46" y="72.50" textLength="20.69" lengthAdjust="spacingAndGlyphs" class="n" style="font-size:14px">100</text><text x="29.98" y="43.10" textLength="27.17" lengthAdjust="spacingAndGlyphs" class="n" style="font-size:14px">1000</text><text x="60.48" y="175.80" textLength="16.30" lengthAdjust="spacingAndGlyphs" class="n" style="font-size:14px">0.1</text><text x="175.49" y="175.80" textLength="7.57" lengthAdjust="spacingAndGlyphs" class="n" style="font-size:14px">1</text><text x="283.14" y="175.80" textLength="14.02" lengthAdjust="spacingAndGlyphs" class="n" style="font-size:14px">10</text><text x="148.05" y="194.10" textLength="62.23" lengthAdjust="spacingAndGlyphs" class="b" style="font-size:14px">Strain (%)</text><g transform="translate(23.1,139.4) rotate(-90)"><text x="-0.22" y="0.00" textLength="83.31" lengthAdjust="spacingAndGlyphs" class="b" style="font-size:13.5px">Modulus (Pa)</text></g><g transform="translate(0.5,0)"><circle cx="316.5" cy="107.7" r="1.5" fill="#5a86c2" opacity=".6"/><circle cx="316.5" cy="128.3" r="1.5" fill="#e3343f" opacity=".6"/><text x="322.41" y="111.50" textLength="10.67" lengthAdjust="spacingAndGlyphs" class="n" style="font-size:13.9px">G</text><text x="322.41" y="131.70" textLength="10.67" lengthAdjust="spacingAndGlyphs" class="n" style="font-size:13.9px">G</text><path d="M333.35,102.3L335.05,102.3L334.60,106.4L333.80,106.4ZM333.65,122.6L335.35,122.6L334.90,126.3L334.10,126.3ZM335.75,122.6L337.45,122.6L337.00,126.3L336.20,126.3Z" fill="#1c1c1c"/></g><g fill="#5a86c2"><circle cx="68.9" cy="80.5" r="1.3"/><circle cx="69.4" cy="82.1" r="1.3"/><circle cx="70.0" cy="83.7" r="1.3"/><circle cx="68.3" cy="85.9" r="1.3"/><circle cx="73.7" cy="82.3" r="1.3"/><circle cx="81.3" cy="81.8" r="1.3"/><circle cx="85.1" cy="82.1" r="1.3"/><circle cx="90.0" cy="81.8" r="1.3"/><circle cx="92.7" cy="81.8" r="1.3"/><circle cx="94.8" cy="81.8" r="1.3"/><circle cx="96.5" cy="81.8" r="1.3"/><circle cx="98.6" cy="81.8" r="1.3"/><circle cx="100.8" cy="81.8" r="1.3"/><circle cx="103.0" cy="81.8" r="1.3"/><circle cx="107.8" cy="82.1" r="1.3"/><circle cx="110.0" cy="82.6" r="1.3"/><circle cx="112.2" cy="82.1" r="1.3"/><circle cx="114.3" cy="82.1" r="1.3"/><circle cx="122.4" cy="83.2" r="1.3"/><circle cx="124.6" cy="83.2" r="1.3"/><circle cx="126.8" cy="83.2" r="1.3"/><circle cx="128.9" cy="83.2" r="1.3"/><circle cx="130.6" cy="83.2" r="1.3"/><circle cx="133.3" cy="84.3" r="1.3"/><circle cx="136.5" cy="83.7" r="1.3"/><circle cx="139.8" cy="83.7" r="1.3"/><circle cx="141.9" cy="83.7" r="1.3"/><circle cx="143.5" cy="83.7" r="1.3"/><circle cx="144.4" cy="84.0" r="1.3"/><circle cx="147.7" cy="84.5" r="1.3"/><circle cx="150.9" cy="85.6" r="1.3"/><circle cx="155.2" cy="85.1" r="1.3"/><circle cx="157.4" cy="85.1" r="1.3"/><circle cx="159.5" cy="85.1" r="1.3"/><circle cx="161.7" cy="85.1" r="1.3"/><circle cx="163.9" cy="85.1" r="1.3"/><circle cx="166.6" cy="86.2" r="1.3"/><circle cx="169.3" cy="86.2" r="1.3"/><circle cx="172.0" cy="86.2" r="1.3"/><circle cx="174.7" cy="86.2" r="1.3"/><circle cx="176.9" cy="86.7" r="1.3"/><circle cx="180.7" cy="87.0" r="1.3"/><circle cx="182.9" cy="87.0" r="1.3"/><circle cx="185.0" cy="87.0" r="1.3"/><circle cx="187.2" cy="87.0" r="1.3"/><circle cx="192.0" cy="88.9" r="1.3"/><circle cx="198.0" cy="89.4" r="1.3"/><circle cx="199.6" cy="89.4" r="1.3"/><circle cx="204.0" cy="90.5" r="1.3"/><circle cx="206.1" cy="90.5" r="1.3"/><circle cx="208.3" cy="90.5" r="1.3"/><circle cx="210.4" cy="90.7" r="1.3"/><circle cx="212.5" cy="90.7" r="1.3"/><circle cx="214.6" cy="90.8" r="1.3"/><circle cx="215.6" cy="90.9" r="1.3"/><circle cx="217.8" cy="90.9" r="1.3"/><circle cx="220.0" cy="90.9" r="1.3"/><circle cx="222.1" cy="90.9" r="1.3"/><circle cx="224.8" cy="92.0" r="1.3"/><circle cx="229.2" cy="92.0" r="1.3"/><circle cx="230.8" cy="92.0" r="1.3"/><circle cx="235.6" cy="92.8" r="1.3"/><circle cx="241.1" cy="93.9" r="1.3"/><circle cx="242.7" cy="94.6" r="1.3"/><circle cx="247.5" cy="95.3" r="1.3"/><circle cx="249.7" cy="95.3" r="1.3"/><circle cx="256.2" cy="97.1" r="1.3"/><circle cx="262.7" cy="98.2" r="1.3"/><circle cx="263.2" cy="99.3" r="1.3"/><circle cx="267.0" cy="101.4" r="1.3"/><circle cx="272.4" cy="103.6" r="1.3"/><circle cx="273.5" cy="102.0" r="1.3"/><circle cx="275.1" cy="100.4" r="1.3"/><circle cx="277.3" cy="106.3" r="1.3"/><circle cx="282.7" cy="106.8" r="1.3"/><circle cx="284.9" cy="105.8" r="1.3"/><circle cx="286.0" cy="104.7" r="1.3"/><circle cx="288.1" cy="107.9" r="1.3"/></g><g fill="#e3343f"><circle cx="68.3" cy="93.5" r="1.3"/><circle cx="70.5" cy="104.8" r="1.3"/><circle cx="70.0" cy="118.9" r="1.3"/><circle cx="74.0" cy="116.0" r="1.3"/><circle cx="81.3" cy="111.3" r="1.3"/><circle cx="84.6" cy="112.7" r="1.3"/><circle cx="86.2" cy="113.0" r="1.3"/><circle cx="90.0" cy="113.5" r="1.3"/><circle cx="93.2" cy="109.7" r="1.3"/><circle cx="93.8" cy="115.1" r="1.3"/><circle cx="94.3" cy="118.4" r="1.3"/><circle cx="97.0" cy="110.2" r="1.3"/><circle cx="98.1" cy="109.7" r="1.3"/><circle cx="101.3" cy="107.5" r="1.3"/><circle cx="103.5" cy="113.5" r="1.3"/><circle cx="107.3" cy="107.5" r="1.3"/><circle cx="110.5" cy="107.5" r="1.3"/><circle cx="113.8" cy="107.5" r="1.3"/><circle cx="114.9" cy="107.0" r="1.3"/><circle cx="113.2" cy="109.2" r="1.3"/><circle cx="122.4" cy="105.4" r="1.3"/><circle cx="123.0" cy="108.1" r="1.3"/><circle cx="124.6" cy="108.6" r="1.3"/><circle cx="126.2" cy="109.2" r="1.3"/><circle cx="127.9" cy="108.6" r="1.3"/><circle cx="130.0" cy="108.6" r="1.3"/><circle cx="133.3" cy="104.3" r="1.3"/><circle cx="136.7" cy="108.6" r="1.3"/><circle cx="140.3" cy="106.5" r="1.3"/><circle cx="141.9" cy="107.5" r="1.3"/><circle cx="143.5" cy="108.1" r="1.3"/><circle cx="147.1" cy="108.3" r="1.3"/><circle cx="148.2" cy="108.3" r="1.3"/><circle cx="150.9" cy="108.3" r="1.3"/><circle cx="155.8" cy="107.8" r="1.3"/><circle cx="158.5" cy="109.4" r="1.3"/><circle cx="160.6" cy="106.7" r="1.3"/><circle cx="162.3" cy="108.9" r="1.3"/><circle cx="165.5" cy="108.9" r="1.3"/><circle cx="169.3" cy="108.3" r="1.3"/><circle cx="171.8" cy="108.3" r="1.3"/><circle cx="174.3" cy="108.3" r="1.3"/><circle cx="176.9" cy="108.3" r="1.3"/><circle cx="180.7" cy="108.3" r="1.3"/><circle cx="182.9" cy="108.3" r="1.3"/><circle cx="185.0" cy="108.3" r="1.3"/><circle cx="187.2" cy="108.3" r="1.3"/><circle cx="186.0" cy="109.4" r="1.3"/><circle cx="192.6" cy="108.3" r="1.3"/><circle cx="194.2" cy="109.4" r="1.3"/><circle cx="198.0" cy="108.9" r="1.3"/><circle cx="199.6" cy="108.9" r="1.3"/><circle cx="202.9" cy="108.9" r="1.3"/><circle cx="205.1" cy="108.9" r="1.3"/><circle cx="207.3" cy="108.9" r="1.3"/><circle cx="209.5" cy="108.9" r="1.3"/><circle cx="211.7" cy="108.9" r="1.3"/><circle cx="213.9" cy="108.9" r="1.3"/><circle cx="215.6" cy="109.0" r="1.3"/><circle cx="217.8" cy="109.0" r="1.3"/><circle cx="220.0" cy="109.0" r="1.3"/><circle cx="222.1" cy="109.0" r="1.3"/><circle cx="224.8" cy="109.0" r="1.3"/><circle cx="229.2" cy="109.3" r="1.3"/><circle cx="230.8" cy="109.3" r="1.3"/><circle cx="235.6" cy="109.0" r="1.3"/><circle cx="241.1" cy="106.5" r="1.3"/><circle cx="242.7" cy="109.8" r="1.3"/><circle cx="247.5" cy="109.5" r="1.3"/><circle cx="248.6" cy="107.9" r="1.3"/><circle cx="250.3" cy="107.2" r="1.3"/><circle cx="256.7" cy="109.3" r="1.3"/><circle cx="262.7" cy="109.5" r="1.3"/><circle cx="267.0" cy="110.1" r="1.3"/><circle cx="271.4" cy="110.4" r="1.3"/><circle cx="273.0" cy="110.4" r="1.3"/><circle cx="275.1" cy="109.5" r="1.3"/><circle cx="277.3" cy="111.7" r="1.3"/><circle cx="282.2" cy="111.2" r="1.3"/><circle cx="284.2" cy="111.2" r="1.3"/><circle cx="286.2" cy="111.2" r="1.3"/><circle cx="288.1" cy="111.2" r="1.3"/></g></g><g transform="translate(381,469)"><rect x="0.5" y="0.5" width="348" height="209" fill="#fff" stroke="#5a5a5a" stroke-width="1.1"/><text x="144.14" y="20.80" textLength="9.63" lengthAdjust="spacingAndGlyphs" class="t" style="font-size:16px">3</text><text x="153.21" y="20.80" textLength="13.94" lengthAdjust="spacingAndGlyphs" class="t" style="font-size:16px">%</text><text x="171.50" y="20.80" textLength="11.03" lengthAdjust="spacingAndGlyphs" class="t" style="font-size:16px">w</text><text x="185.10" y="22.80" textLength="6.26" lengthAdjust="spacingAndGlyphs" class="t" style="font-size:21.6px">/</text><text x="194.80" y="20.80" textLength="7.90" lengthAdjust="spacingAndGlyphs" class="t" style="font-size:16px">v</text><path d="M64.5,39.5H290.5M64.5,157.5H290.5M68.5,39.5V160.8" fill="none" stroke="#5f5f5f" stroke-width="1"/><path d="M290.5,39.0V160.8" fill="none" stroke="#6a6a6a" stroke-width="1"/><path d="M64.5,157.50H71.5M68.5,145.50H71.2M68.5,138.50H71.2M68.5,133.50H71.2M68.5,129.50H71.2M68.5,126.50H71.2M68.5,123.50H71.2M68.5,121.50H71.2M68.5,119.50H71.2M64.5,117.50H71.5M68.5,106.50H71.2M68.5,99.50H71.2M68.5,94.50H71.2M68.5,90.50H71.2M68.5,87.50H71.2M68.5,84.50H71.2M68.5,82.50H71.2M68.5,80.50H71.2M64.5,78.50H71.5M68.5,66.50H71.2M68.5,59.50H71.2M68.5,55.50H71.2M68.5,51.50H71.2M68.5,48.50H71.2M68.5,45.50H71.2M68.5,43.50H71.2M68.5,41.50H71.2M64.5,39.50H71.5M68.50,154.5V160.8M101.91,154.5V157.5M121.46,154.5V157.5M135.33,154.5V157.5M146.09,154.5V157.5M154.87,154.5V157.5M162.31,154.5V157.5M168.74,154.5V157.5M174.42,154.5V157.5M179.50,154.5V160.8M212.91,154.5V157.5M232.46,154.5V157.5M246.33,154.5V157.5M257.09,154.5V157.5M265.87,154.5V157.5M273.31,154.5V157.5M279.74,154.5V157.5M285.42,154.5V157.5M290.50,154.5V160.8" fill="none" stroke="#5f5f5f" stroke-width="0.9"/><text x="49.94" y="160.70" textLength="7.57" lengthAdjust="spacingAndGlyphs" class="n" style="font-size:14px">1</text><text x="43.14" y="121.50" textLength="14.02" lengthAdjust="spacingAndGlyphs" class="n" style="font-size:14px">10</text><text x="36.46" y="82.30" textLength="20.69" lengthAdjust="spacingAndGlyphs" class="n" style="font-size:14px">100</text><text x="29.98" y="43.10" textLength="27.17" lengthAdjust="spacingAndGlyphs" class="n" style="font-size:14px">1000</text><text x="60.48" y="175.80" textLength="16.30" lengthAdjust="spacingAndGlyphs" class="n" style="font-size:14px">0.1</text><text x="175.49" y="175.80" textLength="7.57" lengthAdjust="spacingAndGlyphs" class="n" style="font-size:14px">1</text><text x="283.14" y="175.80" textLength="14.02" lengthAdjust="spacingAndGlyphs" class="n" style="font-size:14px">10</text><text x="148.05" y="194.10" textLength="62.23" lengthAdjust="spacingAndGlyphs" class="b" style="font-size:14px">Strain (%)</text><g transform="translate(23.1,139.4) rotate(-90)"><text x="-0.22" y="0.00" textLength="83.31" lengthAdjust="spacingAndGlyphs" class="b" style="font-size:13.5px">Modulus (Pa)</text></g><g transform="translate(0.5,0)"><circle cx="316.5" cy="107.7" r="1.5" fill="#5a86c2" opacity=".6"/><circle cx="316.5" cy="128.3" r="1.5" fill="#e3343f" opacity=".6"/><text x="322.41" y="111.50" textLength="10.67" lengthAdjust="spacingAndGlyphs" class="n" style="font-size:13.9px">G</text><text x="322.41" y="131.70" textLength="10.67" lengthAdjust="spacingAndGlyphs" class="n" style="font-size:13.9px">G</text><path d="M333.35,102.3L335.05,102.3L334.60,106.4L333.80,106.4ZM333.65,122.6L335.35,122.6L334.90,126.3L334.10,126.3ZM335.75,122.6L337.45,122.6L337.00,126.3L336.20,126.3Z" fill="#1c1c1c"/></g><g fill="#5a86c2"><circle cx="69.3" cy="41.5" r="1.3"/><circle cx="69.9" cy="42.6" r="1.3"/><circle cx="76.5" cy="41.8" r="1.3"/><circle cx="80.1" cy="42.2" r="1.3"/><circle cx="69.9" cy="79.0" r="1.3"/><circle cx="71.9" cy="79.0" r="1.3"/><circle cx="79.5" cy="75.7" r="1.3"/><circle cx="79.8" cy="77.1" r="1.3"/><circle cx="81.8" cy="81.7" r="1.3"/><circle cx="84.4" cy="78.4" r="1.3"/><circle cx="85.7" cy="74.4" r="1.3"/><circle cx="87.7" cy="73.8" r="1.3"/><circle cx="89.7" cy="75.1" r="1.3"/><circle cx="91.0" cy="75.7" r="1.3"/><circle cx="94.9" cy="71.8" r="1.3"/><circle cx="96.9" cy="73.8" r="1.3"/><circle cx="98.5" cy="72.4" r="1.3"/><circle cx="100.2" cy="72.8" r="1.3"/><circle cx="99.5" cy="80.7" r="1.3"/><circle cx="106.1" cy="71.8" r="1.3"/><circle cx="109.4" cy="71.8" r="1.3"/><circle cx="111.4" cy="71.8" r="1.3"/><circle cx="113.3" cy="71.8" r="1.3"/><circle cx="116.6" cy="72.0" r="1.3"/><circle cx="122.6" cy="72.8" r="1.3"/><circle cx="125.2" cy="72.8" r="1.3"/><circle cx="127.2" cy="72.8" r="1.3"/><circle cx="129.1" cy="72.8" r="1.3"/><circle cx="131.1" cy="72.8" r="1.3"/><circle cx="135.1" cy="73.1" r="1.3"/><circle cx="137.0" cy="73.1" r="1.3"/><circle cx="139.0" cy="73.1" r="1.3"/><circle cx="142.9" cy="73.8" r="1.3"/><circle cx="144.4" cy="73.8" r="1.3"/><circle cx="147.7" cy="73.8" r="1.3"/><circle cx="149.8" cy="74.5" r="1.3"/><circle cx="153.1" cy="75.3" r="1.3"/><circle cx="155.3" cy="75.3" r="1.3"/><circle cx="157.4" cy="75.3" r="1.3"/><circle cx="159.6" cy="75.3" r="1.3"/><circle cx="161.7" cy="75.3" r="1.3"/><circle cx="164.4" cy="75.6" r="1.3"/><circle cx="167.7" cy="77.8" r="1.3"/><circle cx="172.0" cy="78.6" r="1.3"/><circle cx="173.7" cy="78.6" r="1.3"/><circle cx="175.3" cy="78.6" r="1.3"/><circle cx="176.9" cy="78.6" r="1.3"/><circle cx="179.1" cy="78.6" r="1.3"/><circle cx="181.3" cy="78.6" r="1.3"/><circle cx="183.4" cy="78.6" r="1.3"/><circle cx="187.7" cy="80.5" r="1.3"/><circle cx="189.9" cy="80.8" r="1.3"/><circle cx="192.0" cy="81.1" r="1.3"/><circle cx="194.2" cy="81.4" r="1.3"/><circle cx="196.3" cy="81.8" r="1.3"/><circle cx="198.5" cy="82.2" r="1.3"/><circle cx="200.7" cy="82.6" r="1.3"/><circle cx="202.8" cy="82.9" r="1.3"/><circle cx="204.5" cy="83.2" r="1.3"/><circle cx="208.3" cy="84.3" r="1.3"/><circle cx="209.9" cy="84.8" r="1.3"/><circle cx="211.5" cy="85.4" r="1.3"/><circle cx="213.1" cy="85.9" r="1.3"/><circle cx="216.4" cy="86.4" r="1.3"/><circle cx="220.0" cy="86.7" r="1.3"/><circle cx="224.8" cy="87.2" r="1.3"/><circle cx="230.8" cy="88.3" r="1.3"/><circle cx="234.0" cy="89.6" r="1.3"/><circle cx="239.4" cy="90.5" r="1.3"/><circle cx="245.9" cy="91.0" r="1.3"/><circle cx="245.9" cy="93.2" r="1.3"/><circle cx="248.6" cy="93.7" r="1.3"/><circle cx="253.0" cy="94.3" r="1.3"/><circle cx="258.4" cy="95.4" r="1.3"/><circle cx="260.5" cy="96.4" r="1.3"/><circle cx="262.7" cy="98.1" r="1.3"/><circle cx="269.2" cy="99.1" r="1.3"/><circle cx="275.7" cy="100.2" r="1.3"/><circle cx="273.0" cy="103.5" r="1.3"/><circle cx="275.7" cy="104.0" r="1.3"/><circle cx="278.4" cy="104.5" r="1.3"/><circle cx="282.2" cy="105.1" r="1.3"/><circle cx="284.3" cy="108.3" r="1.3"/><circle cx="290.3" cy="106.7" r="1.3"/></g><g fill="#e3343f"><circle cx="68.6" cy="78.4" r="1.3"/><circle cx="69.3" cy="80.0" r="1.3"/><circle cx="69.9" cy="79.0" r="1.3"/><circle cx="76.5" cy="83.6" r="1.3"/><circle cx="79.8" cy="79.7" r="1.3"/><circle cx="81.1" cy="81.0" r="1.3"/><circle cx="99.5" cy="82.6" r="1.3"/><circle cx="71.9" cy="112.6" r="1.3"/><circle cx="79.1" cy="109.9" r="1.3"/><circle cx="79.8" cy="108.6" r="1.3"/><circle cx="81.8" cy="113.9" r="1.3"/><circle cx="84.4" cy="111.3" r="1.3"/><circle cx="85.7" cy="108.6" r="1.3"/><circle cx="87.7" cy="109.3" r="1.3"/><circle cx="89.0" cy="111.3" r="1.3"/><circle cx="91.0" cy="109.7" r="1.3"/><circle cx="94.9" cy="106.7" r="1.3"/><circle cx="96.9" cy="108.6" r="1.3"/><circle cx="98.2" cy="107.1" r="1.3"/><circle cx="100.2" cy="108.0" r="1.3"/><circle cx="106.1" cy="109.3" r="1.3"/><circle cx="109.4" cy="106.7" r="1.3"/><circle cx="111.4" cy="107.1" r="1.3"/><circle cx="113.3" cy="107.6" r="1.3"/><circle cx="116.6" cy="107.1" r="1.3"/><circle cx="122.6" cy="107.1" r="1.3"/><circle cx="124.5" cy="107.6" r="1.3"/><circle cx="126.5" cy="108.6" r="1.3"/><circle cx="128.5" cy="108.0" r="1.3"/><circle cx="130.4" cy="107.3" r="1.3"/><circle cx="131.8" cy="108.0" r="1.3"/><circle cx="135.1" cy="108.0" r="1.3"/><circle cx="137.0" cy="107.1" r="1.3"/><circle cx="139.0" cy="106.3" r="1.3"/><circle cx="142.9" cy="107.3" r="1.3"/><circle cx="144.4" cy="106.5" r="1.3"/><circle cx="148.2" cy="107.3" r="1.3"/><circle cx="149.8" cy="107.3" r="1.3"/><circle cx="153.1" cy="107.5" r="1.3"/><circle cx="155.2" cy="107.8" r="1.3"/><circle cx="156.9" cy="107.0" r="1.3"/><circle cx="158.5" cy="108.0" r="1.3"/><circle cx="160.6" cy="109.2" r="1.3"/><circle cx="164.4" cy="108.6" r="1.3"/><circle cx="167.7" cy="109.5" r="1.3"/><circle cx="172.0" cy="110.0" r="1.3"/><circle cx="173.7" cy="110.0" r="1.3"/><circle cx="175.3" cy="110.0" r="1.3"/><circle cx="176.9" cy="110.0" r="1.3"/><circle cx="179.1" cy="110.0" r="1.3"/><circle cx="181.3" cy="110.0" r="1.3"/><circle cx="183.4" cy="110.0" r="1.3"/><circle cx="187.7" cy="110.8" r="1.3"/><circle cx="189.9" cy="110.9" r="1.3"/><circle cx="192.0" cy="111.0" r="1.3"/><circle cx="194.2" cy="111.1" r="1.3"/><circle cx="196.3" cy="111.3" r="1.3"/><circle cx="198.5" cy="111.4" r="1.3"/><circle cx="200.7" cy="111.6" r="1.3"/><circle cx="202.8" cy="111.8" r="1.3"/><circle cx="204.5" cy="111.9" r="1.3"/><circle cx="208.3" cy="111.3" r="1.3"/><circle cx="210.5" cy="112.3" r="1.3"/><circle cx="211.5" cy="113.0" r="1.3"/><circle cx="213.7" cy="114.0" r="1.3"/><circle cx="216.4" cy="113.7" r="1.3"/><circle cx="220.0" cy="113.7" r="1.3"/><circle cx="224.8" cy="113.7" r="1.3"/><circle cx="230.8" cy="113.7" r="1.3"/><circle cx="234.0" cy="114.1" r="1.3"/><circle cx="239.4" cy="114.8" r="1.3"/><circle cx="245.9" cy="114.8" r="1.3"/><circle cx="249.2" cy="116.5" r="1.3"/><circle cx="253.5" cy="117.3" r="1.3"/><circle cx="258.4" cy="117.5" r="1.3"/><circle cx="260.5" cy="118.1" r="1.3"/><circle cx="262.7" cy="119.2" r="1.3"/><circle cx="269.2" cy="120.2" r="1.3"/><circle cx="273.0" cy="121.3" r="1.3"/><circle cx="275.7" cy="119.7" r="1.3"/><circle cx="276.2" cy="121.9" r="1.3"/><circle cx="278.4" cy="122.4" r="1.3"/><circle cx="282.2" cy="122.4" r="1.3"/><circle cx="284.3" cy="124.6" r="1.3"/><circle cx="290.3" cy="124.6" r="1.3"/></g></g>
</svg>
</body></html>
